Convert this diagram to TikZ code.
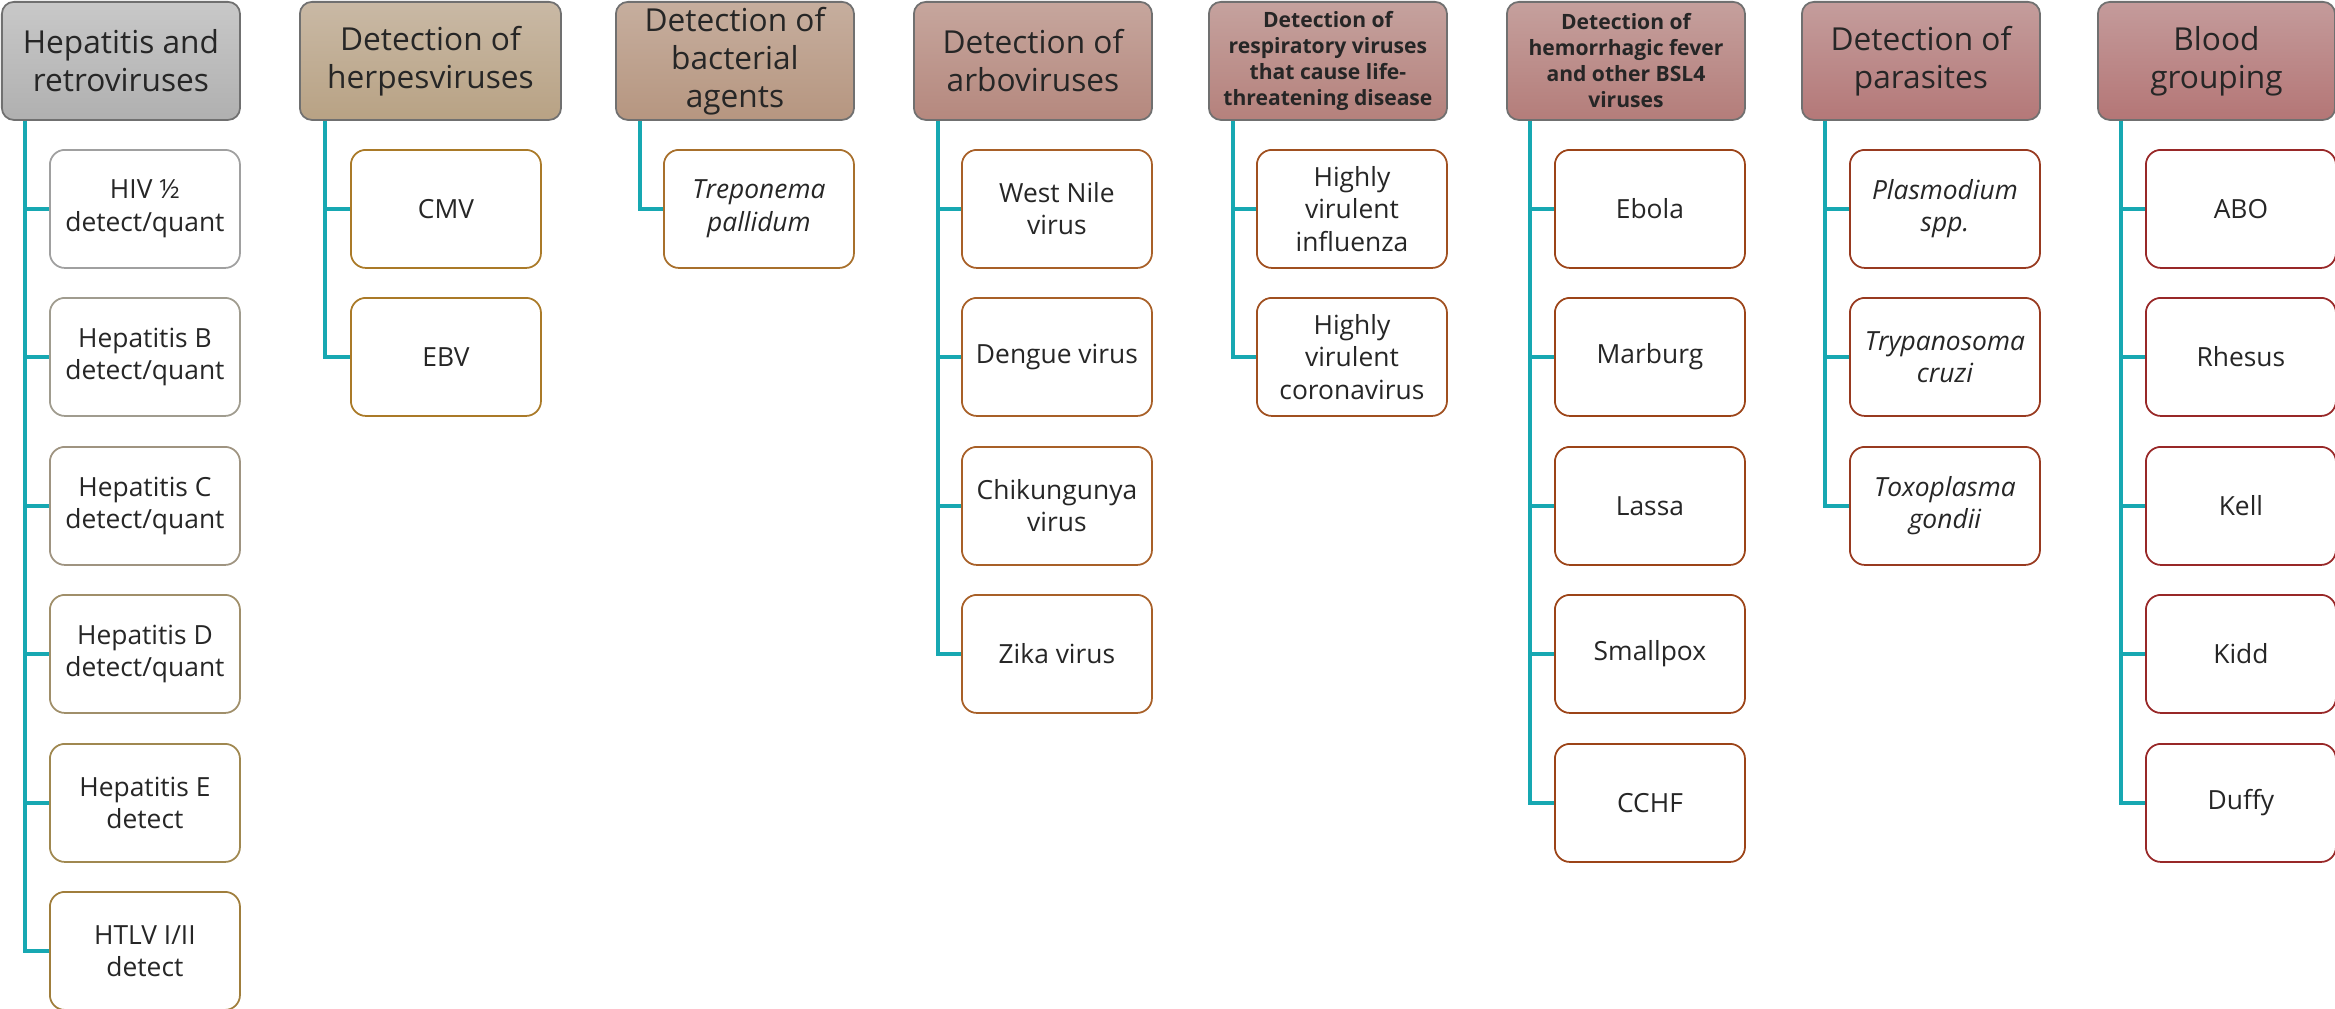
\documentclass[tikz,border=0pt]{standalone}
\usepackage{fontspec}
\setmainfont{Open Sans}
\usetikzlibrary{calc}
\definecolor{txt}{HTML}{262626}
\definecolor{hdrline}{HTML}{707070}
\definecolor{teal1}{HTML}{17A8B2}
\definecolor{hAt}{HTML}{C8C8C8}\definecolor{hAb}{HTML}{B0B0B0}
\definecolor{hBt}{HTML}{C9B9A5}\definecolor{hBb}{HTML}{B8A284}
\definecolor{hCt}{HTML}{C6AE9E}\definecolor{hCb}{HTML}{B69680}
\definecolor{hDt}{HTML}{C6A69D}\definecolor{hDb}{HTML}{B5887E}
\definecolor{hEt}{HTML}{C5A29E}\definecolor{hEb}{HTML}{B5817C}
\definecolor{hFt}{HTML}{C5A09D}\definecolor{hFb}{HTML}{B47D7A}
\definecolor{hGt}{HTML}{C49D9C}\definecolor{hGb}{HTML}{B47878}
\definecolor{hHt}{HTML}{C49B9B}\definecolor{hHb}{HTML}{B47676}
\definecolor{bA1}{HTML}{A0A0A0}\definecolor{bA2}{HTML}{A09C8F}
\definecolor{bA3}{HTML}{9F9481}\definecolor{bA4}{HTML}{A08F6A}
\definecolor{bA5}{HTML}{A08850}\definecolor{bA6}{HTML}{A07E3C}
\definecolor{bB}{HTML}{AA7A28}\definecolor{bC}{HTML}{A8702C}
\definecolor{bD}{HTML}{A86028}\definecolor{bE}{HTML}{A05020}
\definecolor{bF}{HTML}{9C4418}\definecolor{bG}{HTML}{983A20}
\definecolor{bH}{HTML}{982828}
\newcommand{\hdrfont}{\fontsize{9pt}{10.8pt}\selectfont}
\newcommand{\smallhdrfont}{\fontsize{6pt}{7.4pt}\selectfont\bfseries}
\newcommand{\childfont}{\fontsize{7.5pt}{9.2pt}\selectfont}
\tikzset{
  hdr/.style={draw=hdrline, line width=0.5pt, rounded corners=0.12cm, anchor=north west,
    minimum width=2.38cm, minimum height=1.18cm, inner sep=0pt, align=center,
    font=\hdrfont, text=txt},
  smallhdr/.style={hdr, font=\smallhdrfont},
  child/.style={draw, fill=white, line width=0.5pt, rounded corners=0.15cm, anchor=north west,
    minimum width=1.90cm, minimum height=1.18cm, inner sep=0pt, align=center,
    font=\childfont, text=txt},
  conn/.style={draw=teal1, line width=1pt}
}
\begin{document}
\begin{tikzpicture}[x=0.01cm,y=-0.01cm]
\useasboundingbox (0,0) rectangle (2335,1009);
% headers
\node[hdr, top color=hAt, bottom color=hAb] (h1) at (1,1) {Hepatitis and\\retroviruses};
\node[hdr, minimum width=2.61cm, top color=hBt, bottom color=hBb] (h2) at (299,1) {Detection of\\herpesviruses};
\node[hdr, top color=hCt, bottom color=hCb] (h3) at (615,1) {Detection of\\bacterial\\agents};
\node[hdr, top color=hDt, bottom color=hDb] (h4) at (913,1) {Detection of\\arboviruses};
\node[smallhdr, top color=hEt, bottom color=hEb] (h5) at (1208,1) {Detection of\\respiratory viruses\\that cause life-\\threatening disease};
\node[smallhdr, top color=hFt, bottom color=hFb] (h6) at (1506,1) {Detection of\\hemorrhagic fever\\and other BSL4\\viruses};
\node[hdr, top color=hGt, bottom color=hGb] (h7) at (1801,1) {Detection of\\parasites};
\node[hdr, minimum width=2.37cm, top color=hHt, bottom color=hHb] (h8) at (2097,1) {Blood\\grouping};
% column 1
\node[child, draw=bA1] (c1a) at (49,149) {HIV ½\\detect/quant};
\node[child, draw=bA2] (c1b) at (49,297) {Hepatitis B\\detect/quant};
\node[child, draw=bA3] (c1c) at (49,446) {Hepatitis C\\detect/quant};
\node[child, draw=bA4] (c1d) at (49,594) {Hepatitis D\\detect/quant};
\node[child, draw=bA5] (c1e) at (49,743) {Hepatitis E\\detect};
\node[child, draw=bA6] (c1f) at (49,891) {HTLV I/II\\detect};
% column 2
\node[child, draw=bB] (c2a) at (350,149) {CMV};
\node[child, draw=bB] (c2b) at (350,297) {EBV};
% column 3
\node[child, draw=bC] (c3a) at (663,149) {\itshape Treponema\\\itshape pallidum};
% column 4
\node[child, draw=bD] (c4a) at (961,149) {West Nile\\virus};
\node[child, draw=bD] (c4b) at (961,297) {Dengue virus};
\node[child, draw=bD] (c4c) at (961,446) {Chikungunya\\virus};
\node[child, draw=bD] (c4d) at (961,594) {Zika virus};
% column 5
\node[child, draw=bE] (c5a) at (1256,149) {Highly\\virulent\\influenza};
\node[child, draw=bE] (c5b) at (1256,297) {Highly\\virulent\\coronavirus};
% column 6
\node[child, draw=bF] (c6a) at (1554,149) {Ebola};
\node[child, draw=bF] (c6b) at (1554,297) {Marburg};
\node[child, draw=bF] (c6c) at (1554,446) {Lassa};
\node[child, draw=bF] (c6d) at (1554,594) {Smallpox};
\node[child, draw=bF] (c6e) at (1554,743) {CCHF};
% column 7
\node[child, draw=bG] (c7a) at (1849,149) {\itshape Plasmodium\\\itshape spp.};
\node[child, draw=bG] (c7b) at (1849,297) {\itshape Trypanosoma\\\itshape cruzi};
\node[child, draw=bG] (c7c) at (1849,446) {\itshape Toxoplasma\\\itshape gondii};
% column 8
\node[child, draw=bH] (c8a) at (2145,149) {ABO};
\node[child, draw=bH] (c8b) at (2145,297) {Rhesus};
\node[child, draw=bH] (c8c) at (2145,446) {Kell};
\node[child, draw=bH] (c8d) at (2145,594) {Kidd};
\node[child, draw=bH] (c8e) at (2145,743) {Duffy};
% connector origins
\coordinate (v1) at ($(h1.south west)+(24,0)$);
\coordinate (v2) at ($(h2.south west)+(26,0)$);
\coordinate (v3) at ($(h3.south west)+(25,0)$);
\coordinate (v4) at ($(h4.south west)+(25,0)$);
\coordinate (v5) at ($(h5.south west)+(25,0)$);
\coordinate (v6) at ($(h6.south west)+(24,0)$);
\coordinate (v7) at ($(h7.south west)+(24,0)$);
\coordinate (v8) at ($(h8.south west)+(24,0)$);
% connectors
\foreach \c in {c1a,c1b,c1c,c1d,c1e,c1f} \draw[conn] (v1) |- (\c.west);
\foreach \c in {c2a,c2b} \draw[conn] (v2) |- (\c.west);
\draw[conn] (v3) |- (c3a.west);
\foreach \c in {c4a,c4b,c4c,c4d} \draw[conn] (v4) |- (\c.west);
\foreach \c in {c5a,c5b} \draw[conn] (v5) |- (\c.west);
\foreach \c in {c6a,c6b,c6c,c6d,c6e} \draw[conn] (v6) |- (\c.west);
\foreach \c in {c7a,c7b,c7c} \draw[conn] (v7) |- (\c.west);
\foreach \c in {c8a,c8b,c8c,c8d,c8e} \draw[conn] (v8) |- (\c.west);
\end{tikzpicture}
\end{document}
